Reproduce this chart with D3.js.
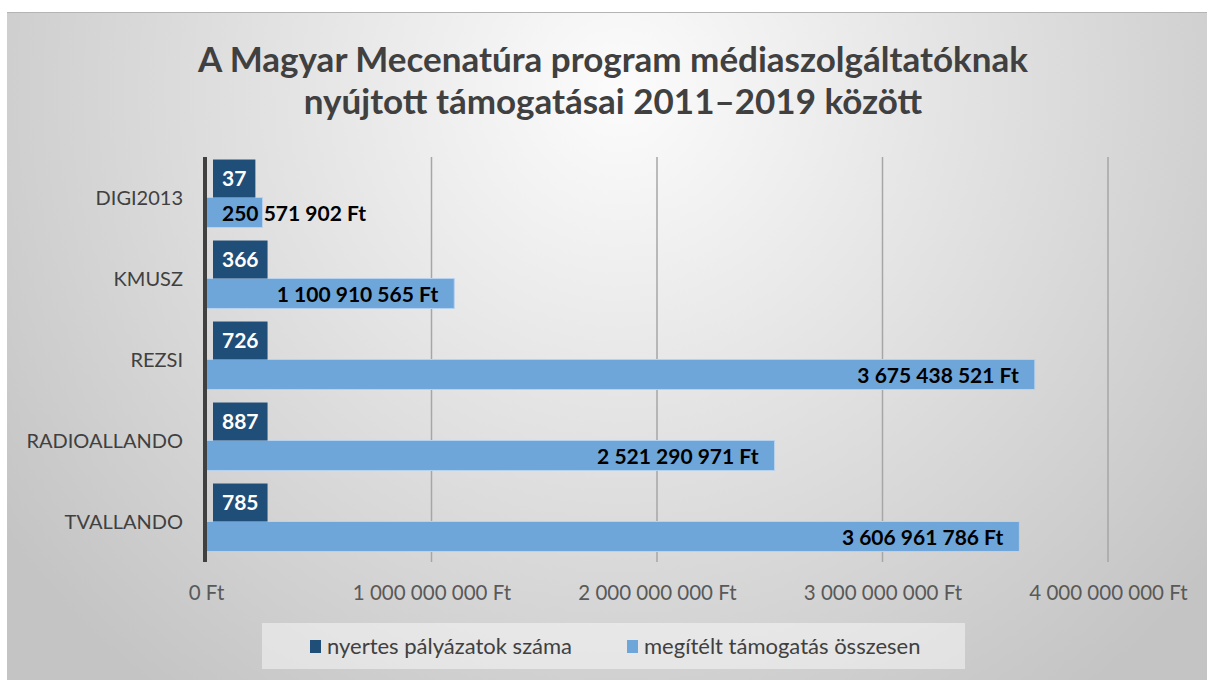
<!DOCTYPE html>
<html>
<head>
<meta charset="utf-8">
<script src="https://cdn.jsdelivr.net/npm/d3@7"></script>
<style>
  body { margin: 0; background: #fff; }
  svg { display: block; }
</style>
</head>
<body>
<div class="chart"></div>
<script>
// adatok
var categories = ["DIGI2013", "KMUSZ", "REZSI", "RADIOALLANDO", "TVALLANDO"];
var palyazatok = [37, 366, 726, 887, 785];
var tamogatas = [250571902, 1100910565, 3675438521, 2521290971, 3606961786];
var tickValues = [0, 1000000000, 2000000000, 3000000000, 4000000000];
var seriesNames = ["nyertes pályázatok száma", "megítélt támogatás összesen"];
var titleLines = ["A Magyar Mecenatúra program médiaszolgáltatóknak", "nyújtott támogatásai 2011\u20132019 között"];

var w = 1207, h = 680;
var darkColor = "#1f4e79", lightColor = "#6fa6d9";
var font = "Lato, 'Open Sans', sans-serif";

// szám formázás szóközzel
function fmt(v) {
  return String(v).replace(/\B(?=(\d{3})+(?!\d))/g, " ");
}

var svg = d3.select(".chart").append("svg")
  .attr("width", w)
  .attr("height", h);

// háttér gradiens
var defs = svg.append("defs");
var grad = defs.append("radialGradient")
  .attr("id", "bg")
  .attr("gradientUnits", "userSpaceOnUse")
  .attr("cx", 620).attr("cy", 90).attr("r", 760);
grad.append("stop").attr("offset", "0").attr("stop-color", "#fcfcfc");
grad.append("stop").attr("offset", "1").attr("stop-color", "#c4c4c4");

svg.append("rect")
  .attr("x", 7).attr("y", 12)
  .attr("width", w - 7).attr("height", h - 12)
  .attr("fill", "url(#bg)");
svg.append("line")
  .attr("x1", 7).attr("x2", w).attr("y1", 12.5).attr("y2", 12.5)
  .attr("stroke", "#b4b4b4").attr("stroke-width", 1);

// cím
svg.append("g").selectAll("text")
  .data(titleLines)
  .enter()
  .append("text")
  .attr("x", 613)
  .attr("y", function(d, i) { return 72 + i * 42; })
  .attr("text-anchor", "middle")
  .attr("font-family", font)
  .attr("font-weight", "bold")
  .attr("font-size", 35)
  .attr("fill", "#404040")
  .text(function(d) { return d; });

// skálák
var x = d3.scaleLinear()
  .domain([0, 4000000000])
  .range([206, 1108]);

var y = d3.scaleBand()
  .domain(categories)
  .range([157, 562])
  .paddingInner(0.26)
  .paddingOuter(0.13);

var sub = d3.scaleBand()
  .domain([0, 1])
  .range([0, y.bandwidth()]);

// rácsvonalak
svg.append("g").selectAll("line")
  .data(tickValues.slice(1))
  .enter()
  .append("line")
  .attr("x1", function(d) { return x(d); })
  .attr("x2", function(d) { return x(d); })
  .attr("y1", 157).attr("y2", 562)
  .attr("stroke", "#a6a6a6")
  .attr("stroke-width", 1.5);

// x tengely
var xAxis = d3.axisBottom(x)
  .tickValues(tickValues)
  .tickSize(0)
  .tickPadding(0)
  .tickFormat(function(d) { return fmt(d) + " Ft"; });

var gx = svg.append("g")
  .attr("transform", "translate(0,593)")
  .call(xAxis);
gx.select(".domain").remove();
gx.selectAll("text")
  .attr("font-family", font)
  .attr("font-size", 20.5)
  .attr("fill", "#595959")
  .attr("dy", "0.35em");

// y tengely feliratok
var yAxis = d3.axisLeft(y).tickSize(0).tickPadding(0);
var gy = svg.append("g")
  .attr("transform", "translate(183,0)")
  .call(yAxis);
gy.select(".domain").remove();
gy.selectAll("text")
  .attr("font-family", font)
  .attr("font-size", 20)
  .attr("fill", "#404040")
  .attr("dy", "0.35em");

// világos oszlopok (támogatás)
var rows = categories.map(function(c, i) {
  return { cat: c, count: palyazatok[i], amount: tamogatas[i] };
});

svg.append("g").selectAll("rect")
  .data(rows)
  .enter()
  .append("rect")
  .attr("x", x(0))
  .attr("y", function(d) { return y(d.cat) + sub(1); })
  .attr("width", function(d) { return x(d.amount) - x(0); })
  .attr("height", sub.bandwidth())
  .attr("fill", lightColor)
  .attr("stroke", "#b7d2ee")
  .attr("stroke-width", 1);

// sötét oszlopok (pályázatok száma) - a skálán szinte láthatatlanok
svg.append("g").selectAll("rect")
  .data(rows)
  .enter()
  .append("rect")
  .attr("x", x(0))
  .attr("y", function(d) { return y(d.cat) + sub(0); })
  .attr("width", function(d) { return x(d.count) - x(0); })
  .attr("height", sub.bandwidth())
  .attr("fill", darkColor);

// tengelyvonal
svg.append("line")
  .attr("x1", 205).attr("x2", 205)
  .attr("y1", 157).attr("y2", 562)
  .attr("stroke", "#404040")
  .attr("stroke-width", 4);

// címkék a támogatáshoz
svg.append("g").selectAll("text")
  .data(rows)
  .enter()
  .append("text")
  .attr("font-family", font)
  .attr("font-weight", "bold")
  .attr("font-size", 21)
  .attr("fill", "#000")
  .attr("dy", "0.36em")
  .attr("y", function(d) { return y(d.cat) + sub(1) + sub.bandwidth() / 2 + 1; })
  .text(function(d) { return fmt(d.amount) + " Ft"; })
  .each(function(d) {
    var tw = this.getComputedTextLength();
    var end = x(d.amount) - 16;
    var start = Math.max(end - tw, x(0) + 16);
    d3.select(this).attr("x", start);
  });

// címkék a pályázatok számához (dobozban)
var lab = svg.append("g").selectAll("g")
  .data(rows)
  .enter()
  .append("g");

lab.append("text")
  .attr("font-family", font)
  .attr("font-weight", "bold")
  .attr("font-size", 21)
  .attr("fill", "#fff")
  .attr("dy", "0.36em")
  .attr("x", 222)
  .attr("y", function(d) { return y(d.cat) + sub(0) + sub.bandwidth() / 2 - 4; })
  .text(function(d) { return d.count; })
  .each(function(d) {
    var tw = this.getComputedTextLength();
    d3.select(this.parentNode).insert("rect", "text")
      .attr("x", 213)
      .attr("y", y(d.cat) + sub(0) + sub.bandwidth() / 2 - 4 - 19)
      .attr("width", tw + 18)
      .attr("height", 38)
      .attr("fill", darkColor);
  });

// jelmagyarázat
var legend = svg.append("g");
legend.append("rect")
  .attr("x", 262).attr("y", 623)
  .attr("width", 703).attr("height", 46)
  .attr("fill", "#ffffff")
  .attr("fill-opacity", 0.45);

var legendX = [310, 627];
var li = legend.selectAll("g")
  .data(seriesNames)
  .enter()
  .append("g")
  .attr("transform", function(d, i) { return "translate(" + legendX[i] + ",0)"; });

li.append("rect")
  .attr("x", 0).attr("y", 640)
  .attr("width", 11).attr("height", 13)
  .attr("fill", function(d, i) { return i === 0 ? darkColor : lightColor; });

li.append("text")
  .attr("x", 17).attr("y", 646)
  .attr("dy", "0.35em")
  .attr("font-family", font)
  .attr("font-size", 22)
  .attr("fill", "#404040")
  .text(function(d) { return d; });
</script>
</body>
</html>
